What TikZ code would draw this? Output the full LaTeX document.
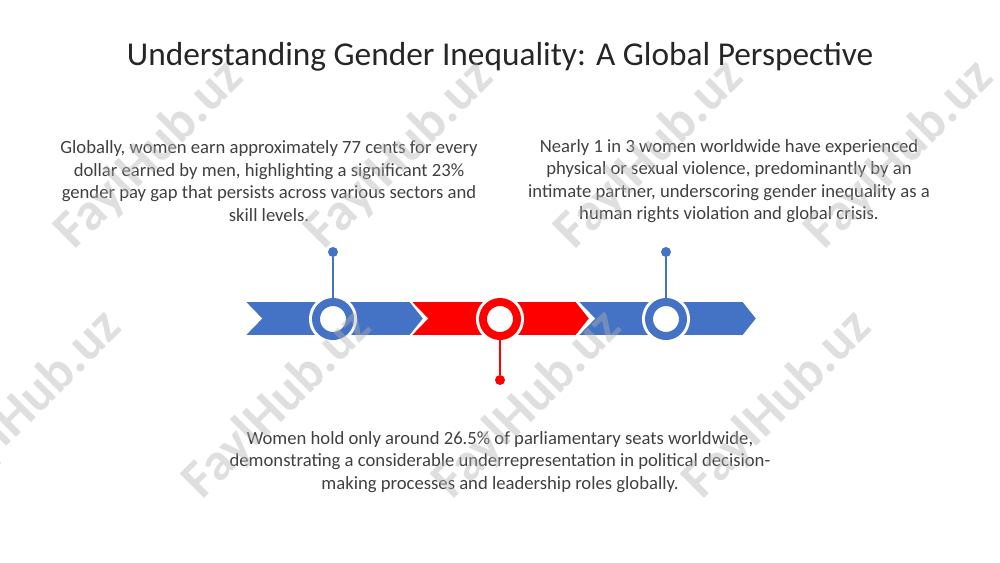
\documentclass[tikz,border=0pt]{standalone}
\usepackage{fontspec}
\setmainfont{Carlito}
\usetikzlibrary{positioning}
\definecolor{pinblue}{HTML}{4472C4}
\definecolor{pinred}{HTML}{FF0000}
\definecolor{bodygray}{HTML}{404040}

\begin{document}
\begin{tikzpicture}[x=0.75pt,y=-0.75pt]
    \tikzstyle{chevron}=[draw=white,line width=1.2pt,line join=miter]
    \tikzstyle{ring}=[circle,line width=6pt,fill=white,inner sep=0pt,minimum size=25.5pt,preaction={draw=white,line width=10.5pt}]
    \tikzstyle{pinhead}=[circle,inner sep=0pt,minimum size=7.5pt]
    \tikzstyle{pinline}=[line width=1.5pt]
    \tikzstyle{fact}=[text=bodygray,align=center,font=\fontsize{14}{16.8}\selectfont]
    \tikzstyle{stamp}=[rotate=45,text=gray!60,opacity=0.42,font=\fontsize{40}{40}\selectfont\bfseries]
    \useasboundingbox (0,0) rectangle (1000,562);
    \node (title) at (500,57) [text=black!85,font=\fontsize{25}{30}\selectfont] {Understanding Gender Inequality: A Global Perspective};
    % timeline band
    \foreach \x/\col in {244/pinblue,410/pinred,577/pinblue}
        \filldraw [chevron,fill=\col] (\x,301) -- ++(166,0) -- ++(14,17.5) -- ++(-14,17.5) -- ++(-166,0) -- ++(17,-17.5) -- cycle;
    \node (ring1) at (333,319) [ring,draw=pinblue] {};
    \node (ring2) at (500,319) [ring,draw=pinred]  {};
    \node (ring3) at (666,319) [ring,draw=pinblue] {};
    \node (head1) at (333,252) [pinhead,fill=pinblue] {};
    \node (head2) at (500,380) [pinhead,fill=pinred]  {};
    \node (head3) at (666,252) [pinhead,fill=pinblue] {};
    \draw [pinline,pinblue] (head1) -- (ring1);
    \draw [pinline,pinred]  (head2) -- (ring2);
    \draw [pinline,pinblue] (head3) -- (ring3);
    % facts
    \node (pay) at (269,181) [fact] {Globally, women earn approximately 77 cents for every\\dollar earned by men, highlighting a significant 23\%\\gender pay gap that persists across various sectors and\\skill levels.};
    \node (violence) at (729,181) [fact] {Nearly 1 in 3 women worldwide have experienced\\physical or sexual violence, predominantly by an\\intimate partner, underscoring gender inequality as a\\human rights violation and global crisis.};
    \node (seats) at (500,462) [fact] {Women hold only around 26.5\% of parliamentary seats worldwide,\\demonstrating a considerable underrepresentation in political decision-\\making processes and leadership roles globally.};
    % watermark
    \foreach \x/\y in {150/155,400/155,650/155,900/155,28/405,278/405,528/405,778/405}
        \node (stamp\x) at (\x,\y) [stamp] {FaylHub.uz};
\end{tikzpicture}
\end{document}
